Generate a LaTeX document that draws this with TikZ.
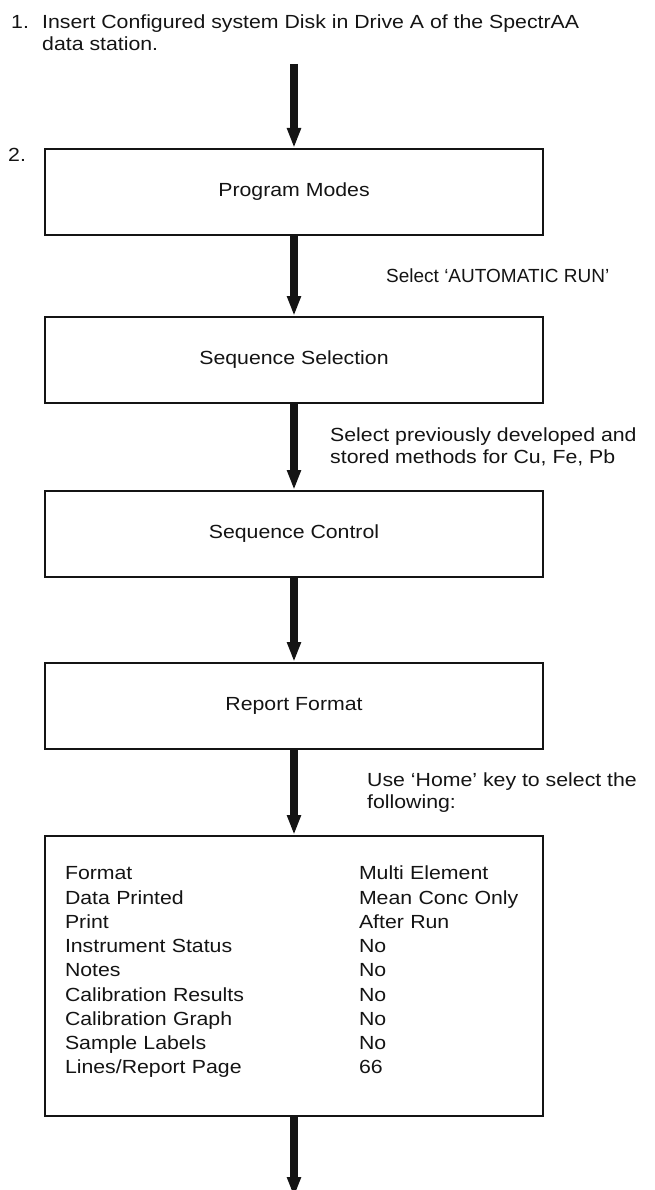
\documentclass[tikz,border=0pt]{standalone}
\usepackage{fontspec}
\setmainfont{Liberation Sans}[FakeStretch=1.12]
\setsansfont{Liberation Sans}[FakeStretch=1.12]
\newfontfamily\plainsans{Liberation Sans}
\usepackage{tikz}
\usetikzlibrary{positioning, arrows.meta, calc}
\definecolor{inkBlack}{HTML}{141414}

\begin{document}
\begin{tikzpicture}[
  x=1pt, y=-1pt,
  % Styles
  stepbox/.style={
    rectangle, draw=inkBlack, line width=2pt,
    minimum width=498pt, minimum height=86pt,
    font=\fontsize{19}{22}\selectfont,
    text=inkBlack, align=center
  },
  note/.style={
    inner sep=0pt, font=\fontsize{19}{22}\selectfont,
    text=inkBlack, align=left
  },
  arrowflow/.style={
    -{Triangle[length=20pt, width=13pt]}, line width=8pt, draw=inkBlack
  },
]
\useasboundingbox (0,0) rectangle (655,1190);

% === STEP 1 ===
\node[note, anchor=west] (num1) at (11,22) {1.};
\node[note, anchor=west] (insertdisk) at (42,32.5) {Insert Configured system Disk in Drive A of the SpectrAA\\data station.};
\coordinate (start) at (294,64);

% === STEP 2: BOXES ===
\node[note, anchor=west] (num2) at (8,155) {2.};
\node[stepbox] (modes) at (294,192) {Program Modes};
\node[stepbox, below=80pt of modes] (selection) {Sequence Selection};
\node[stepbox, below=86pt of selection] (control) {Sequence Control};
\node[stepbox, below=84pt of control] (report) {Report Format};
\node[stepbox, below=85pt of report, minimum height=280pt, inner xsep=20pt,
  text width=458pt, align=left, font=\fontsize{19}{24.25}\selectfont] (settings) {%
  \begin{tabular}{@{}p{294pt}@{}l@{}}
    Format & Multi Element\\
    Data Printed & Mean Conc Only\\
    Print & After Run\\
    Instrument Status & No\\
    Notes & No\\
    Calibration Results & No\\
    Calibration Graph & No\\
    Sample Labels & No\\
    Lines/Report Page & 66
  \end{tabular}\par\vspace*{8pt}};
\coordinate[below=80pt of settings] (finish);

% === Flow Arrows ===
\draw[arrowflow] (start) -- (modes.north);
\draw[arrowflow] (modes.south) -- (selection.north);
\draw[arrowflow] (selection.south) -- (control.north);
\draw[arrowflow] (control.south) -- (report.north);
\draw[arrowflow] (report.south) -- (settings.north);
\draw[arrowflow] (settings.south) -- (finish);

% === Arrow Labels ===
\node[note, font=\plainsans\fontsize{19}{22}\selectfont,
  right=92pt of $(modes.south)!0.5!(selection.north)$] (automatic) {Select ‘AUTOMATIC RUN’};
\node[note, right=36pt of $(selection.south)!0.5!(control.north)$] (methods) {Select previously developed and\\stored methods for Cu, Fe, Pb};
\node[note, right=73pt of $(report.south)!0.5!(settings.north)$] (homekey) {Use ‘Home’ key to select the\\following:};

\end{tikzpicture}
\end{document}
